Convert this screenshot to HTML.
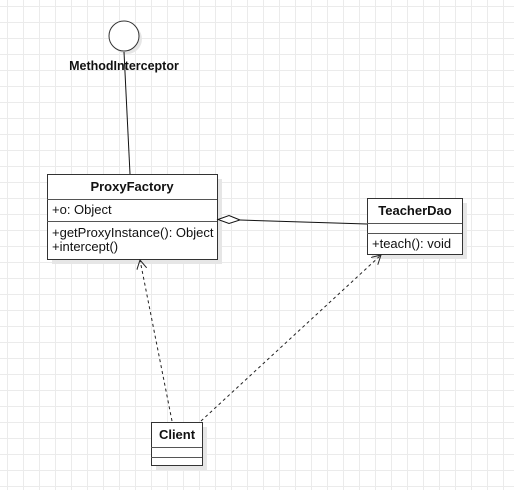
<!DOCTYPE html>
<html><head><style>
html,body{margin:0;padding:0;}
body{width:514px;height:490px;overflow:hidden;background-color:#fff;
background-image:linear-gradient(to right,#ebebeb 1px,transparent 1px),linear-gradient(to bottom,#ebebeb 1px,transparent 1px);
background-size:16px 16px;background-position:7px 6px;}
svg{position:absolute;left:0;top:0;}
text{font-family:"Liberation Sans",Arial,sans-serif;fill:#111;}
</style></head><body>
<svg width="514" height="490" xmlns="http://www.w3.org/2000/svg">
<defs>
<marker id="a" markerWidth="12" markerHeight="12" refX="10" refY="5" orient="auto" markerUnits="userSpaceOnUse">
<path d="M1,0 L10,5 L1,10" fill="none" stroke="#222" stroke-width="1"/></marker>
</defs>
<circle cx="127" cy="39" r="15" fill="#e6e6e6"/>
<rect x="52" y="179" width="170" height="85" fill="#e6e6e6"/>
<rect x="372" y="203" width="95" height="56" fill="#e6e6e6"/>
<rect x="156" y="427" width="51" height="43" fill="#e6e6e6"/>
<circle cx="124" cy="36" r="15" fill="#fff" stroke="#333" stroke-width="1"/>
<text x="124" y="70" font-size="12.5" font-weight="bold" text-anchor="middle">MethodInterceptor</text>
<line x1="124" y1="52" x2="130" y2="174" stroke="#111"/>
<rect x="47.5" y="174.5" width="170" height="85" fill="#fff" stroke="#333"/>
<line x1="47" y1="199.5" x2="217" y2="199.5" stroke="#555"/>
<line x1="47" y1="221.5" x2="217" y2="221.5" stroke="#555"/>
<text x="132" y="191" font-size="13" font-weight="bold" text-anchor="middle">ProxyFactory</text>
<text x="52" y="214" font-size="13">+o: Object</text>
<text x="52" y="237" font-size="13">+getProxyInstance(): Object</text>
<text x="52" y="251" font-size="13">+intercept()</text>
<path d="M218,219.5 L229,215.5 L240,220 L229,223.5 Z" fill="#fff" stroke="#111"/>
<line x1="240" y1="220" x2="367" y2="224" stroke="#111"/>
<rect x="367.5" y="198.5" width="95" height="56" fill="#fff" stroke="#333"/>
<line x1="367" y1="223.5" x2="462" y2="223.5" stroke="#555"/>
<line x1="367" y1="233.5" x2="462" y2="233.5" stroke="#555"/>
<text x="415" y="215" font-size="13" font-weight="bold" text-anchor="middle">TeacherDao</text>
<text x="372" y="248" font-size="13">+teach(): void</text>
<rect x="151.5" y="422.5" width="51" height="43" fill="#fff" stroke="#333"/>
<line x1="151" y1="447.5" x2="202" y2="447.5" stroke="#555"/>
<line x1="151" y1="457.5" x2="202" y2="457.5" stroke="#555"/>
<text x="177" y="439" font-size="13" font-weight="bold" text-anchor="middle">Client</text>
<line x1="172" y1="421" x2="140" y2="260" stroke="#222" stroke-dasharray="3,3" marker-end="url(#a)"/>
<line x1="201" y1="421" x2="381" y2="255" stroke="#222" stroke-dasharray="3,3" marker-end="url(#a)"/>
</svg>
</body></html>
